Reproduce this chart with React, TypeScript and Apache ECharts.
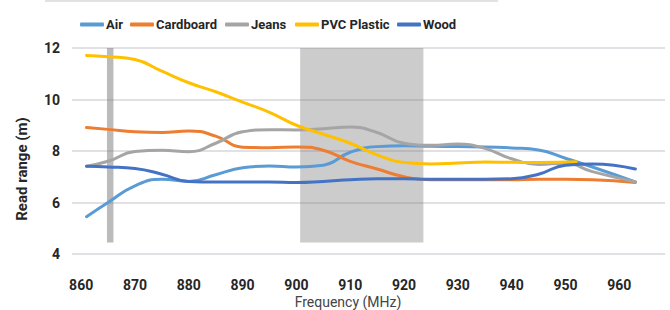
import React, { useEffect, useRef } from "react";
import * as echarts from "echarts";

const freqs = [861, 865, 870, 875, 880, 885, 890, 895, 900, 905, 910, 915, 920, 925, 930, 935, 940, 945, 950, 955, 963];
const pvcFreqs = [861, 865, 870, 875, 880, 885, 890, 895, 900, 905, 910, 915, 920, 925, 930, 935, 940, 945, 952];

const air = [5.45, 6.0, 6.65, 6.9, 6.82, 7.08, 7.35, 7.42, 7.38, 7.45, 7.95, 8.17, 8.2, 8.18, 8.17, 8.16, 8.12, 8.04, 7.72, 7.38, 6.8];
const cardboard = [8.91, 8.84, 8.75, 8.72, 8.78, 8.58, 8.15, 8.13, 8.16, 8.03, 7.6, 7.3, 7.0, 6.88, 6.88, 6.88, 6.88, 6.9, 6.9, 6.88, 6.78];
const jeans = [7.41, 7.6, 7.98, 8.03, 7.97, 8.3, 8.75, 8.83, 8.82, 8.86, 8.93, 8.72, 8.3, 8.22, 8.27, 8.1, 7.7, 7.48, 7.52, 7.2, 6.8];
const pvc = [11.71, 11.66, 11.55, 11.1, 10.65, 10.3, 9.9, 9.5, 9.0, 8.65, 8.3, 7.85, 7.55, 7.5, 7.53, 7.57, 7.56, 7.55, 7.58];
const wood = [7.41, 7.38, 7.32, 7.1, 6.82, 6.8, 6.8, 6.8, 6.78, 6.82, 6.88, 6.92, 6.92, 6.9, 6.9, 6.9, 6.92, 7.1, 7.45, 7.5, 7.3];

const seriesNames = ["Air", "Cardboard", "Jeans", "PVC Plastic", "Wood"];
const seriesColors = ["#5B9BD5", "#ED7D31", "#A5A5A5", "#FFC000", "#4472C4"];
const xTickLabels = [860, 870, 880, 890, 900, 910, 920, 930, 940, 950, 960];
const yTicks = [4, 6, 8, 10, 12];

// shaded frequency bands [start, end] in MHz and vertical extent in metres
const euBand = [864.8, 866.0];
const usBand = [900.7, 923.6];
const bandExtent = [4.45, 12.18];

const FONT = "Roboto, 'Noto Sans', sans-serif";
const LEGEND_FONT_SIZE = 13;

function measure(text: string): number {
  const c = document.createElement("canvas").getContext("2d");
  if (!c) return text.length * 8;
  c.font = `bold ${LEGEND_FONT_SIZE}px Roboto`;
  return c.measureText(text).width;
}

export default function App() {
  const ref = useRef<HTMLDivElement>(null);
  useEffect(() => {
    if (!ref.current) return;
    const chart = echarts.init(ref.current, null, { renderer: "svg" });
    const dataSets = [air, cardboard, jeans, pvc, wood];

    // legend layout: icon 24 + 2 gap + text + 8 item gap, centred at x = 263
    const iconW = 24;
    const widths = seriesNames.map((n) => iconW + 2 + measure(n));
    const gap = 8;
    const total = widths.reduce((a, b) => a + b, 0) + gap * (widths.length - 1);
    let cur = 263 - total / 2;
    const legendLefts = widths.map((w) => {
      const l = cur;
      cur += w + gap;
      return Math.round(l);
    });

    const series: any[] = seriesNames.map((name, i) => {
      const xs = i === 3 ? pvcFreqs : freqs;
      return {
        name,
        type: "line",
        smooth: 0.5,
        showSymbol: false,
        symbol: "none",
        clip: false,
        data: xs.map((f, k) => [f, dataSets[i][k]]),
        lineStyle: { width: 3, color: seriesColors[i], cap: "round" },
        itemStyle: { color: seriesColors[i] },
        z: 3,
      };
    });
    series[0].markArea = {
      silent: true,
      z: 1,
      data: [
        [
          { xAxis: euBand[0], yAxis: bandExtent[1], itemStyle: { color: "rgba(120,120,120,0.5)" } },
          { xAxis: euBand[1], yAxis: bandExtent[0] },
        ],
        [
          { xAxis: usBand[0], yAxis: bandExtent[1], itemStyle: { color: "rgba(128,128,128,0.4)" } },
          { xAxis: usBand[1], yAxis: bandExtent[0] },
        ],
      ],
    };
    chart.setOption({
      animation: false,
      backgroundColor: "#ffffff",
      textStyle: { fontFamily: FONT },
      legend: seriesNames.map((name, i) => ({
        data: [name],
        left: legendLefts[i],
        top: 13,
        icon: "roundRect",
        itemWidth: iconW,
        itemHeight: 4,
        selectedMode: false,
        textStyle: { fontFamily: FONT, fontWeight: "bold", fontSize: LEGEND_FONT_SIZE, color: "#262626", padding: [0, 0, 0, -3] },
      })),
      grid: { left: 72, right: 5, top: 48, bottom: 56 },
      xAxis: {
        type: "value",
        min: 858.3,
        max: 968.5,
        axisLine: { show: false },
        axisTick: { show: false },
        splitLine: { show: false },
        axisLabel: {
          customValues: xTickLabels,
          margin: 24,
          fontFamily: FONT,
          fontWeight: "bold",
          fontSize: 14,
          color: "#262626",
        },
      },
      yAxis: {
        type: "value",
        min: 4,
        max: 12,
        interval: 2,
        axisLine: { show: false },
        axisTick: { show: false },
        splitLine: { lineStyle: { color: "#d6d6dc", width: 1.5 } },
        axisLabel: {
          customValues: yTicks,
          margin: 12,
          fontFamily: FONT,
          fontWeight: "bold",
          fontSize: 14,
          color: "#262626",
        },
      },
      graphic: [
        { type: "rect", shape: { x: 45, y: 0, width: 453, height: 2 }, style: { fill: "#e2e2e2" } },
        {
          type: "text",
          x: 22,
          y: 169,
          rotation: Math.PI / 2,
          style: {
            text: "Read range (m)",
            fontFamily: FONT,
            fontWeight: "bold",
            fontSize: 15,
            fill: "#262626",
            textAlign: "center",
            textVerticalAlign: "middle",
          },
        },
        {
          type: "text",
          x: 348,
          y: 302,
          style: {
            text: "Frequency (MHz)",
            fontFamily: FONT,
            fontSize: 14,
            fill: "#444444",
            textAlign: "center",
            textVerticalAlign: "middle",
          },
        },
      ],
      series,
    });
    return () => chart.dispose();
  }, []);
  return <div ref={ref} style={{ width: 670, height: 310, position: "absolute", left: 0, top: 0 }} />;
}
